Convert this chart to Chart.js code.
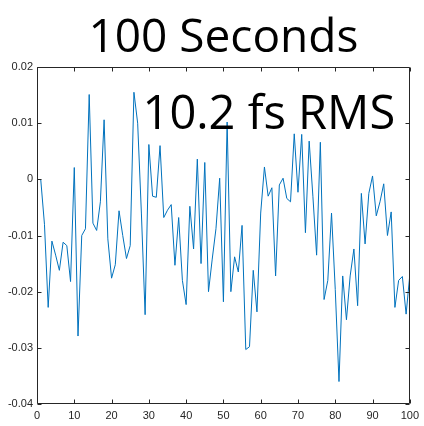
<!DOCTYPE html>
<html>
<head>
<meta charset="utf-8">
<script src="https://cdn.jsdelivr.net/npm/chart.js@4/dist/chart.umd.min.js"></script>
<style>
html,body{margin:0;padding:0;background:#fff;}
#wrap{width:424px;height:426px;}
</style>
</head>
<body>
<div id="wrap"><canvas id="c" width="424" height="426"></canvas></div>
<script>
const titleText = "100 Seconds";
const noteText = "10.2 fs RMS";
const seconds = [1,2,3,4,5,6,7,8,9,10,11,12,13,14,15,16,17,18,19,20,21,22,23,24,25,26,27,28,29,30,31,32,33,34,35,36,37,38,39,40,41,42,43,44,45,46,47,48,49,50,51,52,53,54,55,56,57,58,59,60,61,62,63,64,65,66,67,68,69,70,71,72,73,74,75,76,77,78,79,80,81,82,83,84,85,86,87,88,89,90,91,92,93,94,95,96,97,98,99,100];
const offsets = [0.0,-0.008,-0.0228,-0.011,-0.0135,-0.0162,-0.0112,-0.0118,-0.0182,0.0021,
-0.0279,-0.0100,-0.0088,0.0151,-0.0078,-0.0091,-0.0040,0.0106,-0.0106,-0.0176,
-0.0152,-0.0056,-0.0100,-0.0141,-0.0118,0.0155,0.0100,-0.0060,-0.0241,0.0062,
-0.0030,-0.0032,0.0060,-0.0068,-0.0055,-0.0045,-0.0153,-0.0068,-0.0180,-0.0223,
-0.0048,-0.0124,0.0036,-0.0150,0.0030,-0.0200,-0.0142,-0.0088,0.0002,-0.0218,
0.0102,-0.0200,-0.0138,-0.0165,-0.0082,-0.0303,-0.0298,-0.0162,-0.0236,-0.0060,
0.0022,-0.0030,-0.0015,-0.0172,-0.0010,0.0002,-0.0034,-0.0040,0.0081,-0.0023,
0.0080,-0.0095,0.0068,-0.0030,-0.0135,0.0066,-0.0214,-0.0180,-0.0060,-0.0196,
-0.0360,-0.0172,-0.0250,-0.0172,-0.0124,-0.0225,-0.0025,-0.0115,-0.0025,0.0006,
-0.0065,-0.0040,-0.0008,-0.0100,-0.0058,-0.0228,-0.0180,-0.0173,-0.0240,-0.0170];
const xTicks = [0,10,20,30,40,50,60,70,80,90,100];
const xTickLabels = ["0","10","20","30","40","50","60","70","80","90","100"];
const yTicks = [-0.04,-0.03,-0.02,-0.01,0,0.01,0.02];
const yTickLabels = ["-0.04","-0.03","-0.02","-0.01","0","0.01","0.02"];

const axisColor = "#262626";
const tickFont = {family: "Liberation Sans, Arial, sans-serif", size: 11};

const framePlugin = {
  id: 'frame',
  afterDraw(chart) {
    const ctx = chart.ctx;
    const a = chart.chartArea;
    const xs = chart.scales.x, ys = chart.scales.y;
    ctx.save();
    ctx.strokeStyle = axisColor;
    ctx.lineWidth = 1;
    const L = Math.round(a.left) + 0.5, R = Math.round(a.right) - 0.5;
    const T = Math.round(a.top) + 0.5, B = Math.round(a.bottom) - 0.5;
    ctx.beginPath();
    ctx.rect(L, T, R - L, B - T);
    const tl = 4;
    xTicks.forEach(v => {
      const px = Math.round(xs.getPixelForValue(v)) + 0.5;
      ctx.moveTo(px, B); ctx.lineTo(px, B - tl);
      ctx.moveTo(px, T); ctx.lineTo(px, T + tl);
    });
    yTicks.forEach(v => {
      const py = Math.round(ys.getPixelForValue(v)) + 0.5;
      ctx.moveTo(L, py); ctx.lineTo(L + tl, py);
      ctx.moveTo(R, py); ctx.lineTo(R - tl, py);
    });
    ctx.stroke();
    // title
    ctx.fillStyle = "#000";
    ctx.textAlign = "center";
    ctx.textBaseline = "alphabetic";
    ctx.font = "46px 'Open Sans', 'Noto Sans', sans-serif";
    ctx.fillText(titleText, (a.left + a.right) / 2, 52);
    // annotation anchored in data coords
    ctx.textAlign = "left";
    ctx.font = "47px 'Open Sans', 'Noto Sans', sans-serif";
    ctx.fillText(noteText, xs.getPixelForValue(28.3), ys.getPixelForValue(0.0089));
    ctx.restore();
  }
};

new Chart(document.getElementById('c'), {
  type: 'line',
  data: {
    datasets: [{
      data: seconds.map((s, i) => ({x: s, y: offsets[i]})),
      borderColor: '#0072BD',
      borderWidth: 1,
      pointRadius: 0,
      tension: 0,
      fill: false
    }]
  },
  options: {
    responsive: false,
    animation: false,
    layout: {padding: {left: 0, right: 13, top: 67, bottom: 0}},
    plugins: {legend: {display: false}, title: {display: false}, tooltip: {enabled: false}},
    scales: {
      x: {
        type: 'linear', min: 0, max: 100,
        afterBuildTicks(s) { s.ticks = xTicks.map(v => ({value: v})); },
        afterFit(s) { s.height = 22; },
        grid: {display: false, drawTicks: false},
        border: {display: false},
        ticks: {
          color: axisColor, font: tickFont, padding: 5, maxRotation: 0, autoSkip: false,
          callback: (v) => xTickLabels[xTicks.indexOf(v)]
        }
      },
      y: {
        type: 'linear', min: -0.04, max: 0.02,
        afterBuildTicks(s) { s.ticks = yTicks.map(v => ({value: v})); },
        afterFit(s) { s.width = 37; },
        grid: {display: false, drawTicks: false},
        border: {display: false},
        ticks: {
          color: axisColor, font: tickFont, padding: 4, autoSkip: false,
          callback: (v) => yTickLabels[yTicks.indexOf(v)]
        }
      }
    }
  },
  plugins: [framePlugin]
});
</script>
</body>
</html>
